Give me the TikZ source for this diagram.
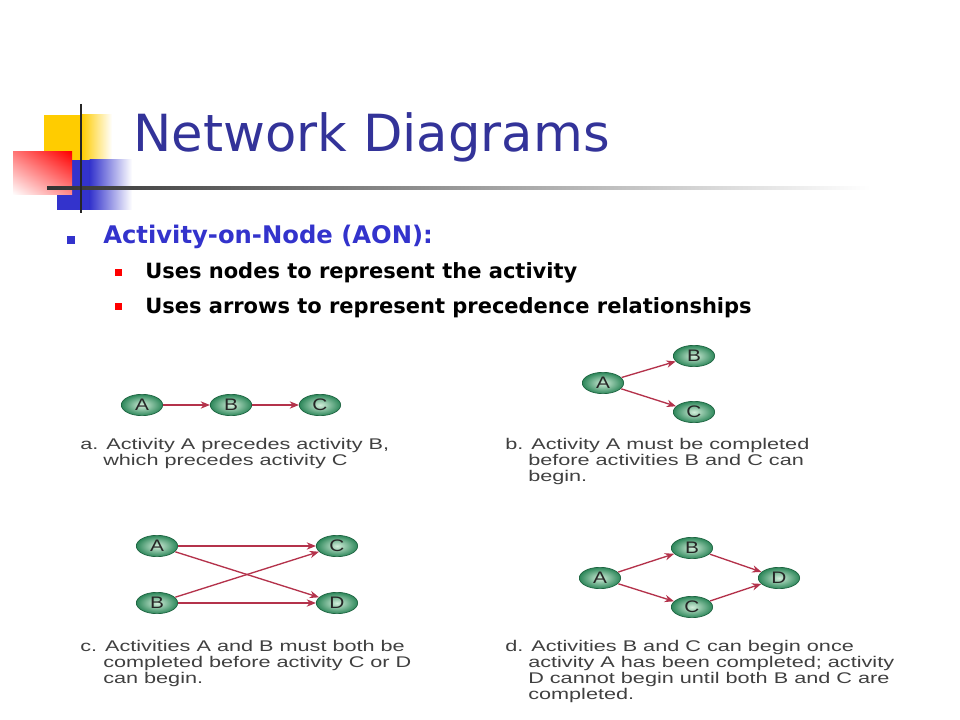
\documentclass[tikz,border=0pt]{standalone}
\usepackage{fontspec}
\usetikzlibrary{shapes.geometric,arrows.meta,shadings}
\setmainfont{Liberation Sans}
\newfontfamily\titlefont{DejaVu Sans}
\newfontfamily\capfont[FakeStretch=1.4]{Liberation Sans}
\newfontfamily\nodefont[FakeStretch=1.25]{Liberation Sans}
\definecolor{titleblue}{RGB}{51,51,153}
\definecolor{bulblue}{RGB}{51,51,204}
\definecolor{logoyellow}{RGB}{255,204,0}
\definecolor{logoblue}{RGB}{51,51,204}
\definecolor{arrowred}{RGB}{180,50,75}
\definecolor{capgray}{RGB}{64,64,64}
\definecolor{nodegreen}{RGB}{45,135,90}
\definecolor{nodelight}{RGB}{210,238,218}
\definecolor{nodeedge}{RGB}{30,100,65}
\definecolor{pinkA}{RGB}{255,120,120}
\definecolor{pinkB}{RGB}{255,140,140}
\tikzset{
  act/.style={ellipse, minimum width=31pt, minimum height=16pt, inner sep=0pt,
    draw=nodeedge, line width=0.5pt, inner color=nodelight, outer color=nodegreen,
    font=\nodefont\fontsize{12.5pt}{14pt}\selectfont, text=black!85},
  prec/.style={draw=arrowred, line width=1pt, -{Stealth[length=7pt,width=5.5pt]}, shorten <=0.3pt},
  captxt/.style={anchor=base west, inner sep=0pt, text=capgray, font=\capfont\fontsize{11.6pt}{13pt}\selectfont},
  subtxt/.style={anchor=base west, inner sep=0pt, text=black, font=\titlefont\bfseries\fontsize{15.75pt}{18pt}\selectfont},
}
\begin{document}
\begin{tikzpicture}[x=0.75pt,y=-0.75pt]
\useasboundingbox[fill=white] (0,0) rectangle (960,720);
% logo
\fill[logoyellow] (44,115) rectangle (82,160);
\shade[left color=logoyellow, right color=white] (81.5,115) rectangle (112,160);
\fill[logoblue] (57,160) rectangle (90,210);
\shade[left color=logoblue, right color=white] (89.5,160) rectangle (132,210);
\shade[upper right=red, upper left=pinkA, lower right=pinkB, lower left=white] (13,152) rectangle (72,195);
\shade[left color=black!80, middle color=black!20, right color=white] (47,186.5) rectangle (870,189.5);
\draw[black!85, line width=1.6pt] (81,104) -- (81,213);
% title
\node[anchor=base west, inner sep=0pt, text=titleblue, font=\titlefont\fontsize{38.4pt}{44pt}\selectfont] (title) at (133,152) {Network Diagrams};
% bullets
\fill[bulblue] (67,236) rectangle (75,244);
\node[anchor=base west, inner sep=0pt, text=bulblue, font=\titlefont\bfseries\fontsize{18.2pt}{22pt}\selectfont] (b1) at (103,244) {Activity-on-Node (AON):};
\fill[red] (115,269) rectangle (122,276);
\node[subtxt] (b2) at (145,279) {Uses nodes to represent the activity};
\fill[red] (115,303) rectangle (122,310);
\node[subtxt] (b3) at (145,313) {Uses arrows to represent precedence relationships};
% diagram a
\node[act] (aA) at (142,405) {A};
\node[act] (aB) at (231,405) {B};
\node[act] (aC) at (320,405) {C};
\draw[prec] (aA) -- (aB);
\draw[prec] (aB) -- (aC);
\node[captxt] (capa1) at (80,449) {a. Activity A precedes activity B,};
\node[captxt] (capa2) at (103,465) {which precedes activity C};
% diagram b
\node[act] (bA) at (603,383) {A};
\node[act] (bB) at (694,356) {B};
\node[act] (bC) at (694,412) {C};
\draw[prec] (bA) -- (bB);
\draw[prec] (bA) -- (bC);
\node[captxt] (capb1) at (505,449) {b. Activity A must be completed};
\node[captxt] (capb2) at (528,465) {before activities B and C can};
\node[captxt] (capb3) at (528,481) {begin.};
% diagram c
\node[act] (cA) at (157,546) {A};
\node[act] (cB) at (157,603) {B};
\node[act] (cC) at (337,546) {C};
\node[act] (cD) at (337,603) {D};
\draw[prec] (cA) -- (cC);
\draw[prec] (cA) -- (cD);
\draw[prec] (cB) -- (cC);
\draw[prec] (cB) -- (cD);
\node[captxt] (capc1) at (80,651) {c. Activities A and B must both be};
\node[captxt] (capc2) at (103,667) {completed before activity C or D};
\node[captxt] (capc3) at (103,683) {can begin.};
% diagram d
\node[act] (dA) at (600,578) {A};
\node[act] (dB) at (692,548) {B};
\node[act] (dC) at (692,607) {C};
\node[act] (dD) at (779,578) {D};
\draw[prec] (dA) -- (dB);
\draw[prec] (dA) -- (dC);
\draw[prec] (dB) -- (dD);
\draw[prec] (dC) -- (dD);
\node[captxt] (capd1) at (505,651) {d. Activities B and C can begin once};
\node[captxt] (capd2) at (528,667) {activity A has been completed; activity};
\node[captxt] (capd3) at (528,683) {D cannot begin until both B and C are};
\node[captxt] (capd4) at (528,699) {completed.};
\end{tikzpicture}
\end{document}
